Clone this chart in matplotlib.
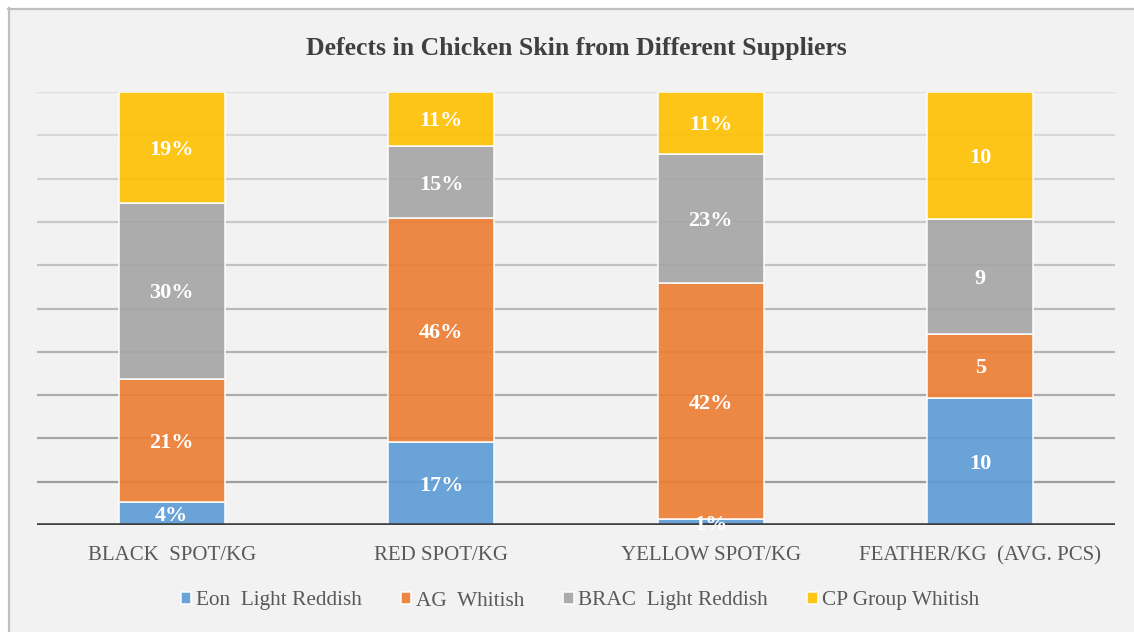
import matplotlib
matplotlib.use("Agg")
import matplotlib.pyplot as plt
import numpy as np
from matplotlib.lines import Line2D
from matplotlib.patches import Rectangle

categories = ["BLACK  SPOT/KG", "RED SPOT/KG", "YELLOW SPOT/KG", "FEATHER/KG  (AVG. PCS)"]
series_names = ["Eon  Light Reddish", "AG  Whitish", "BRAC  Light Reddish", "CP Group Whitish"]
eon = [4, 17, 1, 10]
ag = [21, 46, 42, 5]
brac = [30, 15, 23, 9]
cp = [19, 11, 11, 10]
label_suffix = ["%", "%", "%", ""]
colors = ["#5b9bd5", "#ed7d31", "#a5a5a5", "#ffc000"]

plt.rcParams['font.family'] = ['Liberation Serif', 'DejaVu Serif']

W, H = 1134, 632
fig = plt.figure(figsize=(W / 100, H / 100), dpi=100)
fig.patch.set_facecolor("white")
# chart area background and border (cropped on right/bottom)
fig.patches.append(Rectangle((8 / W, -0.1), 1.2, 1.1 - 8 / H, transform=fig.transFigure,
                             facecolor="#f2f2f2", edgecolor="none", zorder=-10))
fig.lines.append(Line2D([8.5 / W, 8.5 / W], [0, 1 - 8 / H], transform=fig.transFigure,
                        color="#bfbfbf", lw=1.6, zorder=-5))
fig.lines.append(Line2D([8 / W, 1], [1 - 8.5 / H, 1 - 8.5 / H], transform=fig.transFigure,
                        color="#bfbfbf", lw=1.6, zorder=-5))

ax = fig.add_axes([37 / W, 1 - 525 / H, 1078 / W, 433 / H])
ax.set_facecolor("none")
x = np.arange(len(categories))
data = np.array([eon, ag, brac, cp], dtype=float)
totals = data.sum(axis=0)
frac = data / totals * 100

# gridlines with gradient
levels = np.arange(10, 101, 10)
greys = np.linspace(0.62, 0.87, len(levels))
for lv, g in zip(levels, greys):
    ax.axhline(lv, color=(g, g, g), lw=1.6, zorder=1)

bottom = np.zeros(len(categories))
for i, (name, col) in enumerate(zip(series_names, colors)):
    bars = ax.bar(x, frac[i], 0.395, bottom=bottom, color=col, edgecolor="white",
                  linewidth=1.2, label=name, zorder=2, alpha=0.9)
    for j in range(len(categories)):
        yc = bottom[j] + frac[i][j] / 2
        ax.text(x[j], yc, f"{int(data[i][j])}{label_suffix[j]}", ha="center",
                va="center_baseline", color="white", fontsize=16, fontweight="bold", zorder=4)
    bottom += frac[i]

ax.axhline(0, color="#404040", lw=2.6, zorder=3)
ax.set_xlim(-0.5, 3.5)
ax.set_ylim(0, 100)
ax.set_yticks([])
ax.set_xticks(x)
ax.set_xticklabels(categories, fontsize=15, color="#595959")
ax.tick_params(axis="x", length=0, pad=15)
for s in ax.spines.values():
    s.set_visible(False)

fig.text(576 / W, 1 - 46 / H, "Defects in Chicken Skin from Different Suppliers",
         ha="center", va="center_baseline", fontsize=18.5, fontweight="bold", color="#404040")

leg = fig.legend(loc="center", bbox_to_anchor=(580 / W, 1 - 601 / H), ncol=4, frameon=False,
                 fontsize=15.3, handlelength=0.5, handleheight=0.5, handletextpad=0.2,
                 columnspacing=1.85, labelcolor="#595959")

fig.savefig("out.png", dpi=100, facecolor=fig.get_facecolor())
